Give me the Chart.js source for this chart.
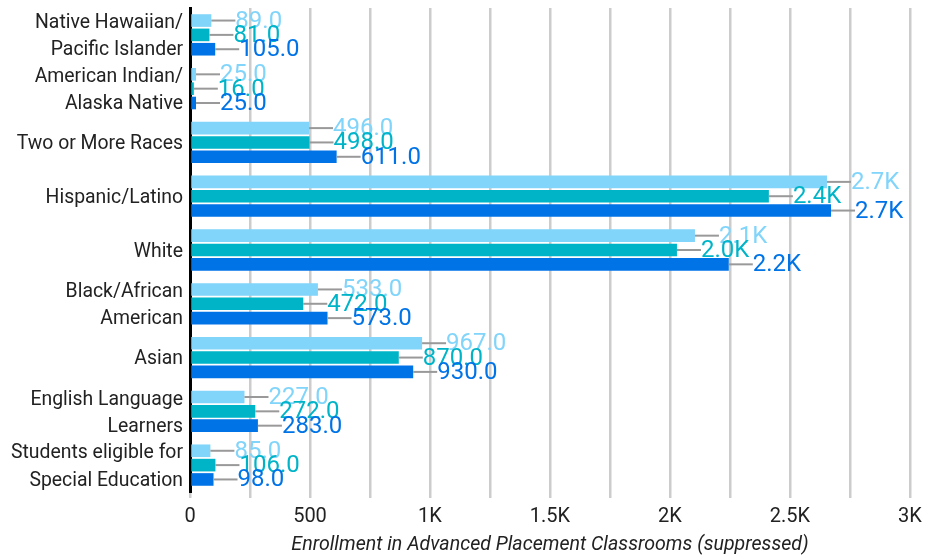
<!DOCTYPE html>
<html>
<head>
<meta charset="utf-8">
<script src="https://cdn.jsdelivr.net/npm/chart.js@4"></script>
<style>
  html, body { margin: 0; padding: 0; background: #fff; }
  #wrap { width: 941px; height: 560px; }
</style>
</head>
<body>
<div id="wrap"><canvas id="chart" width="941" height="560"></canvas></div>
<script>
// categories, top to bottom
const categories = [
  ['Native Hawaiian/', 'Pacific Islander'],
  ['American Indian/', 'Alaska Native'],
  'Two or More Races',
  'Hispanic/Latino',
  'White',
  ['Black/African', 'American'],
  'Asian',
  ['English Language', 'Learners'],
  ['Students eligible for', 'Special Education']
];

// three series (legend hidden in the original)
const seriesA = [89, 25, 496, 2654, 2104, 533, 967, 227, 85];
const seriesB = [81, 16, 498, 2412, 2029, 472, 870, 272, 106];
const seriesC = [105, 25, 611, 2671, 2245, 573, 930, 283, 98];

const xTicks = [0, 500, 1000, 1500, 2000, 2500, 3000];
const xTickLabels = ['0', '500', '1K', '1.5K', '2K', '2.5K', '3K'];

const colors = ['#81d4fa', '#00b4c8', '#0073e6'];

function fmt(v) {
  return v >= 1000 ? (v / 1000).toFixed(1) + 'K' : v.toFixed(1);
}

// leader lines + value labels at bar ends
const valueLabels = {
  id: 'valueLabels',
  afterDatasetsDraw(chart) {
    const ctx = chart.ctx;
    ctx.save();
    ctx.font = '24px Roboto';
    ctx.textBaseline = 'middle';
    ctx.textAlign = 'left';
    chart.data.datasets.forEach((ds, di) => {
      const meta = chart.getDatasetMeta(di);
      meta.data.forEach((bar, i) => {
        const x = bar.x, y = bar.y;
        ctx.strokeStyle = '#999';
        ctx.lineWidth = 2;
        ctx.beginPath();
        ctx.moveTo(x, y);
        ctx.lineTo(x + 24, y);
        ctx.stroke();
        ctx.fillStyle = ds.backgroundColor;
        ctx.fillText(fmt(ds.data[i]), x + 24, y + 1);
      });
    });
    ctx.restore();
  }
};

new Chart(document.getElementById('chart'), {
  type: 'bar',
  data: {
    labels: categories,
    datasets: [
      { data: seriesA, backgroundColor: colors[0] },
      { data: seriesB, backgroundColor: colors[1] },
      { data: seriesC, backgroundColor: colors[2] }
    ]
  },
  options: {
    indexAxis: 'y',
    responsive: false,
    animation: false,
    layout: { padding: { top: 8, right: 31, left: 0, bottom: 0 } },
    datasets: { bar: { categoryPercentage: 0.8, barPercentage: 0.88 } },
    plugins: {
      legend: { display: false },
      tooltip: { enabled: false }
    },
    scales: {
      x: {
        min: 0,
        max: 3000,
        afterBuildTicks(scale) {
          const t = [];
          for (let v = 0; v <= 3000; v += 250) t.push({ value: v });
          scale.ticks = t;
        },
        afterFit(scale) {
          scale.height = 68;
          scale.paddingLeft = 0;
          scale.paddingRight = 0;
        },
        grid: {
          color: '#cccccc',
          lineWidth: 2.5,
          tickLength: 6
        },
        border: { display: false },
        ticks: {
          padding: 7,
          color: '#222',
          font: { family: 'Roboto', size: 20 },
          maxRotation: 0,
          autoSkip: false,
          callback(v) {
            const k = xTicks.indexOf(v);
            return k >= 0 ? xTickLabels[k] : '';
          }
        },
        title: {
          display: true,
          text: 'Enrollment in Advanced Placement Classrooms (suppressed)',
          color: '#222',
          font: { family: 'Roboto', size: 19.6, style: 'italic' },
          padding: { top: 0, bottom: 3 }
        }
      },
      y: {
        afterFit(scale) {
          scale.width = 190;
          scale.paddingTop = 0;
          scale.paddingBottom = 0;
        },
        grid: { display: false, drawTicks: false },
        border: { display: true, color: '#000', width: 3 },
        ticks: {
          padding: 7,
          autoSkip: false,
          labelOffset: 2,
          color: '#222',
          font: { family: 'Roboto', size: 19.4, lineHeight: 1.4 }
        }
      }
    }
  },
  plugins: [valueLabels]
});
</script>
</body>
</html>
